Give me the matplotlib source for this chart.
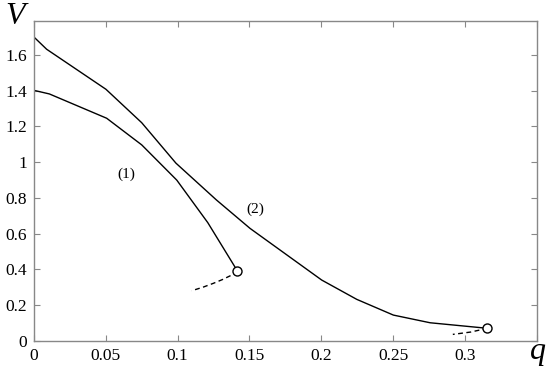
import matplotlib
matplotlib.use("Agg")
import matplotlib.pyplot as plt

# Curve (1)
q1 = [0.0, 0.0107, 0.0506, 0.075, 0.0994, 0.121, 0.1416]
v1 = [1.402, 1.382, 1.246, 1.097, 0.900, 0.662, 0.392]
# Curve (1) dashed continuation
q1d = [0.1416, 0.1377, 0.131, 0.125, 0.118, 0.1098]
v1d = [0.392, 0.369, 0.343, 0.323, 0.302, 0.281]

# Curve (2)
q2 = [0.0, 0.0088, 0.0501, 0.075, 0.0988, 0.127, 0.1504, 0.2003, 0.2247, 0.2502, 0.2758, 0.3157]
v2 = [1.700, 1.632, 1.408, 1.221, 0.995, 0.789, 0.630, 0.341, 0.233, 0.145, 0.102, 0.071]
# Curve (2) dashed continuation
q2d = [0.3157, 0.304, 0.2916]
v2d = [0.071, 0.050, 0.037]

xticks = [0, 0.05, 0.1, 0.15, 0.2, 0.25, 0.3, 0.35]
xticklabels = ["0", "0.05", "0.1", "0.15", "0.2", "0.25", "0.3", ""]
yticks = [0, 0.2, 0.4, 0.6, 0.8, 1.0, 1.2, 1.4, 1.6]
yticklabels = ["0", "0.2", "0.4", "0.6", "0.8", "1", "1.2", "1.4", "1.6"]

plt.rcParams['font.family'] = ['Liberation Serif', 'DejaVu Serif']

fig = plt.figure(figsize=(5.5, 3.72), dpi=100)
ax = fig.add_axes([34/550, 1-341/372, (536.7-34)/550, (341-21)/372])

ax.plot(q1, v1, color='black', lw=1.0)
ax.plot(q1d, v1d, color='black', lw=1.0, ls=(0, (3.5, 2.5)))
ax.plot(q2, v2, color='black', lw=1.0)
ax.plot(q2d, v2d, color='black', lw=1.0, ls=(0, (3.5, 2.5)))
ax.plot([q1[-1]], [v1[-1]], 'o', ms=6.5, mfc='white', mec='black', mew=1.0)
ax.plot([q2[-1]], [v2[-1]], 'o', ms=6.5, mfc='white', mec='black', mew=1.0)

ax.text(0.064, 0.934, "(1)", fontsize=11, ha='center', va='center')
ax.text(0.154, 0.737, "(2)", fontsize=11, ha='center', va='center')

ax.set_xlim(0, 0.35)
ax.set_ylim(0, 1.79)
ax.set_xticks(xticks)
ax.set_xticklabels(xticklabels)
ax.set_yticks(yticks)
ax.set_yticklabels(yticklabels)
ax.tick_params(direction='in', length=4.5, width=0.8, color='#888888',
               top=True, right=True, labelsize=12.5, pad=5)
for s in ax.spines.values():
    s.set_color('#888888')
    s.set_linewidth(1.0)

fig.text(15/550, 1-17/372, "V", fontsize=23, style='italic', ha='center', va='center')
fig.text(538/550, 1-352/372, "q", fontsize=23, style='italic', ha='center', va='center')

fig.savefig("out.png", dpi=100)
